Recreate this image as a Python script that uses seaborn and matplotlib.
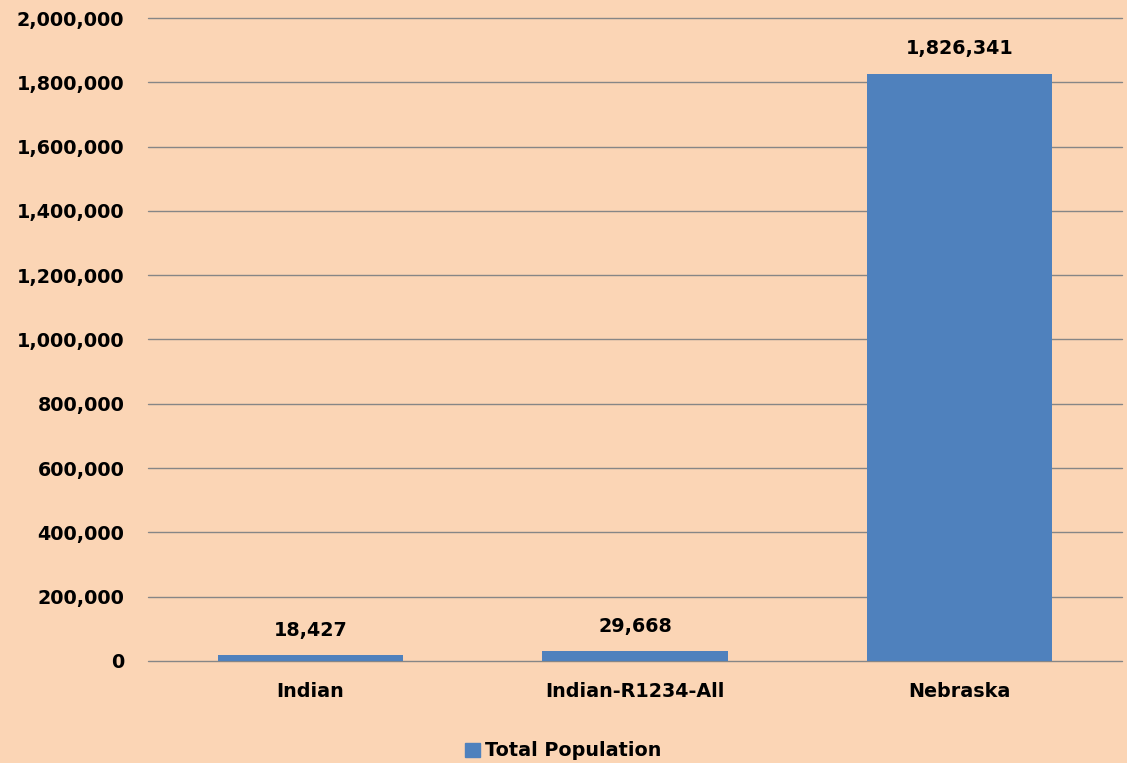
import matplotlib
matplotlib.use("Agg")
import matplotlib.pyplot as plt
import seaborn as sns
import pandas as pd
from matplotlib.ticker import FuncFormatter
from matplotlib.patches import Patch

categories = ["Indian", "Indian-R1234-All", "Nebraska"]
values = [18427, 29668, 1826341]
series_name = "Total Population"

bg = "#FBD5B5"
bar_color = "#4F81BD"

sns.set_theme(style="white")
plt.rcParams['font.family'] = ['DejaVu Sans']
plt.rcParams['font.weight'] = 'bold'

FS = 13.8

fig = plt.figure(figsize=(11.27, 7.63), dpi=100)
fig.patch.set_facecolor(bg)
ax = fig.add_axes([0.1313, 0.1337, 0.8643, 0.8427])
ax.set_facecolor(bg)

df = pd.DataFrame({"cat": categories, "val": values})
sns.barplot(data=df, x="cat", y="val", color=bar_color, width=0.57, ax=ax,
            saturation=1, linewidth=0, zorder=3)

ax.set_ylim(0, 2000000)
ax.set_xlim(-0.5, 2.5)
ax.set_yticks(range(0, 2000001, 200000))
ax.yaxis.set_major_formatter(FuncFormatter(lambda v, p: f"{int(v):,}"))
ax.grid(axis="y", color="#868686", linewidth=1)
for gl in ax.get_ygridlines():
    gl.set_clip_on(False)
ax.set_axisbelow(True)
for s in ax.spines.values():
    s.set_visible(False)
ax.set_xlabel("")
ax.set_ylabel("")
ax.tick_params(axis="y", length=0, pad=17, labelsize=FS, labelcolor="black")
ax.tick_params(axis="x", length=0, pad=15, labelsize=FS, labelcolor="black")
for lab in ax.get_xticklabels() + ax.get_yticklabels():
    lab.set_fontweight("bold")

for i, v in enumerate(values):
    ax.annotate(f"{v:,}", (i, v), xytext=(0, 14), textcoords="offset points",
                ha="center", va="baseline", fontsize=FS, fontweight="bold", color="black")

fig.legend(handles=[Patch(color=bar_color, label=series_name)], loc="lower center",
           bbox_to_anchor=(0.5, -0.019), frameon=False, handlelength=0.75, handleheight=0.75,
           handletextpad=0.3, labelcolor="black", prop={"size": FS, "weight": "bold"})

fig.savefig("out.png", dpi=100, facecolor=bg)
